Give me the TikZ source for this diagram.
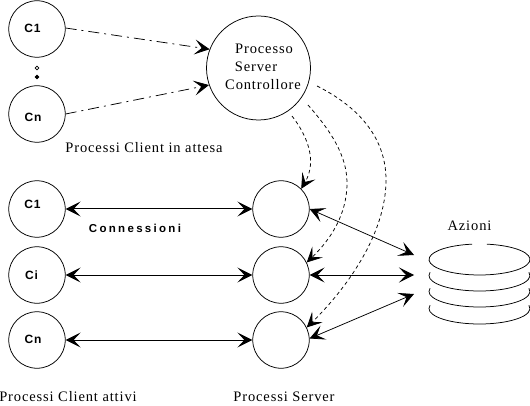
\documentclass[tikz,border=0pt]{standalone}
\usepackage{fontspec}
\setmainfont{Liberation Serif}
\newfontfamily\lblserif[LetterSpace=6]{Liberation Serif}
\newfontfamily\lblbold[LetterSpace=6]{Liberation Sans Bold}
\newfontfamily\lblwide[LetterSpace=20]{Liberation Sans Bold}
\usetikzlibrary{arrows.meta}
\tikzset{
  x=1pt,y=-1pt,
  every path/.style={line width=0.75pt},
  bigc/.style={circle,draw,inner sep=0pt,minimum size=56.5pt},
  ctrl/.style={circle,draw,inner sep=0pt,minimum size=104pt},
  dot/.style={circle,draw,inner sep=0pt,minimum size=3.6pt},
  txt/.style={inner sep=0pt,font=\lblserif\fontsize{14.5}{14.5}\selectfont},
  bold/.style={inner sep=0pt,font=\lblbold\fontsize{12}{12}\selectfont},
  tip/.tip={Stealth[length=15pt,width=15pt,inset=7pt]},
  dd/.style={dash pattern=on 11pt off 5pt on 2pt off 5pt,-tip},
  ds/.style={dash pattern=on 3.5pt off 3pt,-tip},
  link/.style={tip-tip,line width=1pt},
  linkd/.style={tip-tip,line width=0.75pt},
}
\begin{document}
\begin{tikzpicture}
\useasboundingbox (0,0) rectangle (530,406);
% waiting clients
\node[bigc] (w1) at (37,29) {};
\node[bigc] (wn) at (37,114) {};
\node[dot] (d1) at (37,68) {};
\node[dot,fill=black] (d2) at (37,77) {};
\node[ctrl] (ctrl) at (258.5,68) {};
% active clients
\node[bigc] (a1) at (37,209) {};
\node[bigc] (ai) at (37,275) {};
\node[bigc] (an) at (37,340) {};
% servers
\node[bigc] (s1) at (281,209) {};
\node[bigc] (s2) at (281,275) {};
\node[bigc] (s3) at (281,340) {};
% labels
\node[bold] (lw1) at (32.5,28) {C1};
\node[bold] (lwn) at (33,117) {Cn};
\node[bold] (la1) at (32.5,204) {C1};
\node[bold] (lai) at (31.5,275) {Ci};
\node[bold] (lan) at (33,339) {Cn};
\node[inner sep=0pt,font=\lblwide\fontsize{11.5}{11.5}\selectfont] (lconn) at (135,228) {Connessioni};
\node[txt] (l1) at (264,49) {Processo};
\node[txt] (l2) at (256,67) {Server};
\node[txt] (l3) at (263,85) {Controllore};
\node[txt] (l4) at (144,148) {Processi Client in attesa};
\node[txt] (l5) at (68,397) {Processi Client attivi};
\node[txt] (l6) at (284,397) {Processi Server};
\node[txt] (l7) at (469.5,226) {Azioni};
% stack
\draw (479.5,259.5) ++(278.5:50.5 and 15.5) arc[start angle=278.5,end angle=621.5,x radius=50.5,y radius=15.5];
\draw (479.5,275.5) ++(192:50.5 and 15.5) arc[start angle=192,end angle=-12,x radius=50.5,y radius=15.5];
\draw (479.5,291.5) ++(192:50.5 and 15.5) arc[start angle=192,end angle=-12,x radius=50.5,y radius=15.5];
\draw (479.5,308.5) ++(192:50.5 and 15.5) arc[start angle=192,end angle=-12,x radius=50.5,y radius=15.5];
% free ends
\coordinate (t1) at (414,255);
\coordinate (t2) at (414,275);
\coordinate (t3) at (414,294);
\coordinate (c1) at (292,116);
\coordinate (c2) at (308,105);
\coordinate (c3) at (317,86);
% connectors
\draw[dd] (w1.2) -- (ctrl.159);
\draw[dd] (wn.0) -- (ctrl.199);
\draw[ds] (c1) .. controls (306,134) and (318,160) .. (s1.45);
\draw[ds] (c2) .. controls (330,130) and (347,155) .. (347,183) .. controls (347,215) and (330,240) .. (s2.26);
\draw[ds] (c3) .. controls (355,105) and (386,135) .. (386,180) .. controls (386,235) and (345,290) .. (s3.26);
\draw[link] (a1) -- (s1);
\draw[link] (ai) -- (s2);
\draw[link] (an) -- (s3);
\draw[linkd] (s1.east) -- (t1);
\draw[link] (s2.east) -- (t2);
\draw[linkd] (s3.3) -- (t3);
\end{tikzpicture}
\end{document}
